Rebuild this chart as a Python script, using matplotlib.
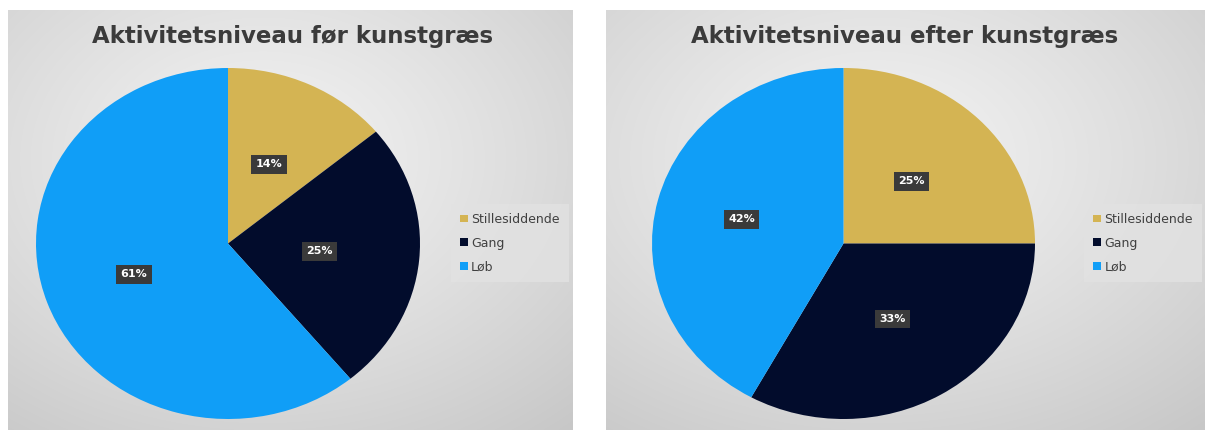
import numpy as np
import matplotlib
matplotlib.use("Agg")
import matplotlib.pyplot as plt

categories = ["Stillesiddende", "Gang", "Løb"]
before_values = [14, 25, 61]
after_values = [25, 33, 42]
titles = ["Aktivitetsniveau før kunstgræs", "Aktivitetsniveau efter kunstgræs"]
colors = ["#D4B453", "#020C2C", "#109EF7"]

W, H = 1207, 430
fig = plt.figure(figsize=(W / 100, H / 100), dpi=100)
fig.patch.set_facecolor("white")

def px_rect(x0, y0, x1, y1):
    return [x0 / W, 1 - y1 / H, (x1 - x0) / W, (y1 - y0) / H]

def background(rect):
    ax = fig.add_axes(rect)
    ny, nx = 200, 300
    yy, xx = np.mgrid[0:ny, 0:nx]
    cx, cy = nx * 0.45, ny * 0.35
    d = np.sqrt(((xx - cx) / nx) ** 2 + ((yy - cy) / ny) ** 2)
    d = d / d.max()
    v = 0.95 - 0.17 * d ** 1.2
    img = np.dstack([v, v, v])
    ax.imshow(img, aspect="auto", extent=(0, 1, 0, 1), interpolation="bilinear")
    ax.set_axis_off()
    return ax

panels = [
    dict(bg=(8, 10, 573, 432), pie=(36, 68, 420, 419), title_x=293, leg=(445, 243), vals=before_values),
    dict(bg=(606, 10, 1205, 432), pie=(652, 68, 1035, 419), title_x=905, leg=(1078, 243), vals=after_values),
]

for i, p in enumerate(panels):
    background(px_rect(*p["bg"]))
    ax = fig.add_axes(px_rect(*p["pie"]))
    wedges, _ = ax.pie(p["vals"], colors=colors, startangle=90, counterclock=False,
                       radius=1.0, wedgeprops=dict(linewidth=0))
    ax.set_aspect("auto")
    ax.set_xlim(-1, 1)
    ax.set_ylim(-1, 1)
    ax.set_axis_off()
    total = sum(p["vals"])
    start = 90.0
    dists = [0.5, 0.48, 0.52] if i == 0 else [0.5, 0.5, 0.55]
    for j, v in enumerate(p["vals"]):
        span = 360.0 * v / total
        mid = np.deg2rad(start - span / 2)
        start -= span
        r = dists[j]
        ax.text(r * np.cos(mid), r * np.sin(mid), f"{v}%", ha="center", va="center",
                color="white", fontsize=8, fontweight="bold",
                bbox=dict(boxstyle="square,pad=0.4", facecolor="#3a3a3a", edgecolor="none"))
    fig.text(p["title_x"] / W, 1 - 37 / H, titles[i], ha="center", va="center",
             fontsize=16.5, fontweight="bold", color="#3b3b3b")
    leg = fig.legend(wedges, categories, loc="center left",
                     bbox_to_anchor=(p["leg"][0] / W, 1 - p["leg"][1] / H),
                     frameon=True, facecolor="#e2e2e2", edgecolor="none", fancybox=False,
                     handlelength=0.6, handleheight=0.6, handletextpad=0.3,
                     labelspacing=0.85, fontsize=9, labelcolor="#404040",
                     borderpad=0.7)
    leg.get_frame().set_alpha(0.8)

fig.savefig("out.png", dpi=100, facecolor="white")
